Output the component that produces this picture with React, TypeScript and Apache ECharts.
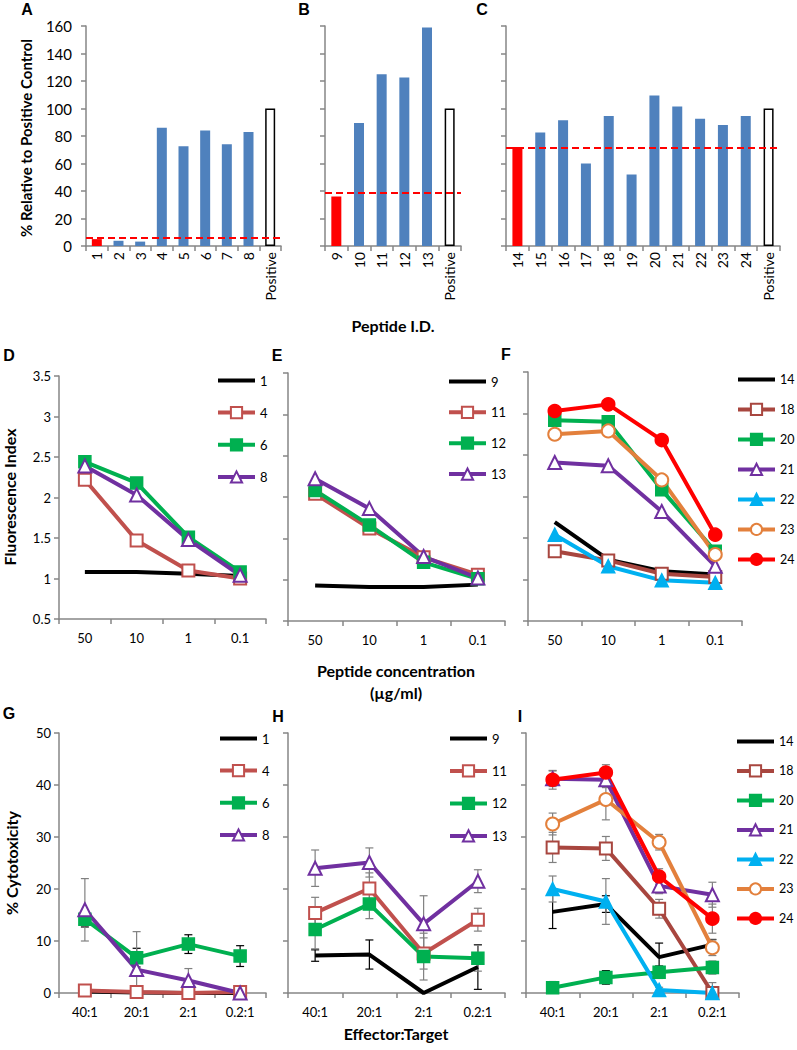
import React, { useEffect, useRef } from 'react';
import * as echarts from 'echarts';

const FONT = 'Lato, "Open Sans", sans-serif';

// ---------- Panels A-C (bar charts) ----------
const catsA = ['1', '2', '3', '4', '5', '6', '7', '8', 'Positive'];
const valsA = [5, 3.8, 3.2, 86, 72.5, 84, 74, 83, 100];
const cutoffA = 6.2;
const catsB = ['9', '10', '11', '12', '13', 'Positive'];
const valsB = [36, 89.5, 125, 122.5, 159, 100];
const cutoffB = 38.5;
const catsC = ['14', '15', '16', '17', '18', '19', '20', '21', '22', '23', '24', 'Positive'];
const valsC = [72, 82.5, 91.5, 60, 94.5, 52, 109.5, 101.5, 92.5, 88, 94.5, 100];
const cutoffC = 71.5;

// ---------- Panels D-F (Fluorescence index) ----------
const concCats = ['50', '10', '1', '0.1'];
const d1 = [1.08, 1.08, 1.06, 1.03];
const d4 = [2.22, 1.47, 1.1, 1.0];
const d6 = [2.44, 2.18, 1.51, 1.08];
const d8 = [2.39, 2.03, 1.48, 1.04];
const e9 = [0.93, 0.91, 0.91, 0.94];
const e11 = [2.04, 1.62, 1.27, 1.06];
const e12 = [2.08, 1.66, 1.21, 1.01];
const e13 = [2.22, 1.86, 1.28, 1.02];
const f14 = [1.69, 1.24, 1.1, 1.06];
const f18 = [1.34, 1.23, 1.07, 1.03];
const f20 = [2.92, 2.9, 2.08, 1.34];
const f21 = [2.41, 2.37, 1.82, 1.16];
const f22 = [1.54, 1.16, 0.99, 0.96];
const f23 = [2.75, 2.79, 2.2, 1.3];
const f24 = [3.03, 3.11, 2.68, 1.54];

// ---------- Panels G-I (% Cytotoxicity) ----------
const etCats = ['40:1', '20:1', '2:1', '0.2:1'];
const g1 = [0.3, 0.1, 0, 0];
const g4 = [0.5, 0.2, 0, 0.2];
const g6 = [14.2, 6.8, 9.4, 7.1];
const g6Err = [1.5, 1.8, 1.8, 2.0];
const g8 = [16, 4.5, 2.4, 0];
const g8Err = [6, 7.3, 2.3, 0];
const h9 = [7.2, 7.4, 0, 5];
const h9Err = [1.1, 2.8, 0, 4.3];
const h11 = [15.4, 20.1, 7.6, 14.1];
const h11Err = [3, 3, 3, 2.2];
const h12 = [12.2, 17.1, 7.0, 6.7];
const h12Err = [3.7, 2.8, 4.5, 2.5];
const h13 = [24, 25.1, 13.3, 21.5];
const h13Err = [3.5, 2.8, 5.4, 2.2];
const i14 = [15.6, 17.1, 6.9, 9.3];
const i14Err = [3.2, 1.6, 2.7, 1.0];
const i18 = [28, 27.8, 16.2, 0];
const i18Err = [2.9, 2.3, 1.8, 2.0];
const i20 = [1, 3, 4, 4.9];
const i20Err = [1.2, 1.3, 1.2, 1.2];
const i21 = [41.2, 41, 20.6, 18.9];
const i21Err = [1.5, 1.5, 1.5, 2.4];
const i22 = [20, 17.6, 0.6, 0];
const i22Err = [2.5, 4.4, 0.5, 0];
const i23 = [32.5, 37.2, 29, 8.7];
const i23Err = [2.1, 3.9, 1.5, 1.5];
const i24 = [41, 42.4, 22.4, 14.3];
const i24Err = [1.8, 1.5, 1.5, 2.8];

// ---------- styles ----------
const BLUE = '#4F81BD';
const AXIS = '#868686';
const ERR_GRAY = '#808080';
const CLEAR = 'rgba(0,0,0,0)';
const LINE_W = 4;
const styles: Record<string, { color: string; symbol: string; size: number }> = {
  '1': { color: '#000000', symbol: 'none', size: 0 },
  '9': { color: '#000000', symbol: 'none', size: 0 },
  '14': { color: '#000000', symbol: 'none', size: 0 },
  '4': { color: '#C0504D', symbol: 'emptyRect', size: 12 },
  '11': { color: '#C0504D', symbol: 'emptyRect', size: 12 },
  '18': { color: '#A8463F', symbol: 'emptyRect', size: 12 },
  '6': { color: '#00B050', symbol: 'rect', size: 12 },
  '12': { color: '#00B050', symbol: 'rect', size: 12 },
  '20': { color: '#00B050', symbol: 'rect', size: 12 },
  '8': { color: '#7030A0', symbol: 'emptyTriangle', size: 13 },
  '13': { color: '#7030A0', symbol: 'emptyTriangle', size: 13 },
  '21': { color: '#7030A0', symbol: 'emptyTriangle', size: 13 },
  '22': { color: '#00B0F0', symbol: 'triangle', size: 13 },
  '23': { color: '#E3803C', symbol: 'emptyCircle', size: 13 },
  '24': { color: '#FF0000', symbol: 'circle', size: 13 },
};

const grids = [
  { left: 86, top: 26, width: 195, height: 220 },
  { left: 325, top: 26, width: 136, height: 220 },
  { left: 506, top: 26, width: 274, height: 220 },
  { left: 59, top: 376, width: 207, height: 243 },
  { left: 288, top: 373, width: 217, height: 248 },
  { left: 528, top: 372, width: 214, height: 249 },
  { left: 59, top: 733, width: 207, height: 260 },
  { left: 288, top: 733, width: 217, height: 260 },
  { left: 526, top: 733, width: 213, height: 260 },
];

const axisLine = { show: true, lineStyle: { color: AXIS, width: 1.5 } };
const axisTick = { show: true, length: 5, lineStyle: { color: AXIS, width: 1.5 } };

function xCat(gridIndex: number, data: string[], bar: boolean) {
  return {
    gridIndex,
    type: 'category',
    data,
    boundaryGap: true,
    axisLine,
    axisTick: { ...axisTick, interval: 0, alignWithLabel: false },
    axisLabel: bar
      ? { interval: 0, rotate: 90, fontSize: 14, fontFamily: FONT, color: '#000', margin: 6 }
      : { interval: 0, fontSize: 13, fontFamily: FONT, color: '#000', margin: 12 },
    splitLine: { show: false },
  };
}

function yVal(gridIndex: number, min: number, max: number, interval: number, showLabel: boolean, fontSize: number, margin: number) {
  return {
    gridIndex,
    type: 'value',
    min,
    max,
    interval,
    axisLine,
    axisTick,
    splitLine: { show: false },
    axisLabel: { show: showLabel, fontSize, fontFamily: FONT, color: '#000', margin },
  };
}

function barSeries(idx: number, vals: number[], cutoff: number) {
  return {
    type: 'bar',
    xAxisIndex: idx,
    yAxisIndex: idx,
    barWidth: 10,
    data: vals.map((v, j) => ({
      value: v,
      itemStyle:
        j === 0
          ? { color: '#FF0000' }
          : j === vals.length - 1
          ? { color: '#FFFFFF', borderColor: '#000000', borderWidth: 1.5 }
          : { color: BLUE },
    })),
    markLine: {
      silent: true,
      symbol: ['none', 'none'],
      label: { show: false },
      lineStyle: { color: '#FF0000', type: [7, 4], width: 2 },
      data: [{ yAxis: cutoff }],
    },
    z: 2,
  };
}

function lineSeries(idx: number, name: string, values: number[]) {
  const st = styles[name];
  const noSym = st.symbol === 'none';
  return {
    type: 'line',
    name,
    xAxisIndex: idx,
    yAxisIndex: idx,
    data: values,
    symbol: st.symbol,
    symbolSize: st.size,
    showSymbol: !noSym,
    lineStyle: { color: st.color, width: LINE_W },
    itemStyle: noSym
      ? { color: CLEAR, borderColor: CLEAR, borderWidth: 0 }
      : { color: st.color, borderColor: st.color, borderWidth: 1.5 },
    z: 3,
  };
}

function errSeries(idx: number, key: string, values: number[], errs: number[], color: string) {
  return {
    type: 'custom',
    name: 'err-' + key,
    xAxisIndex: idx,
    yAxisIndex: idx,
    silent: true,
    z: 2,
    data: values.map((v, j) => [j, v, errs[j]]),
    encode: { x: 0, y: 1 },
    renderItem: (params: any, api: any) => {
      const x = api.value(0);
      const y = api.value(1);
      const e = api.value(2);
      if (!e) return { type: 'group', children: [] };
      const top = api.coord([x, y + e]);
      const bot = api.coord([x, Math.max(0, y - e)]);
      const w = 4;
      const st = { stroke: color, lineWidth: 1.2 };
      return {
        type: 'group',
        children: [
          { type: 'line', shape: { x1: top[0], y1: top[1], x2: bot[0], y2: bot[1] }, style: st },
          { type: 'line', shape: { x1: top[0] - w, y1: top[1], x2: top[0] + w, y2: top[1] }, style: st },
          { type: 'line', shape: { x1: bot[0] - w, y1: bot[1], x2: bot[0] + w, y2: bot[1] }, style: st },
        ],
      };
    },
  };
}

function legend(names: string[], left: number, top: number, gap: number, fontSize = 13) {
  return {
    data: names.map((n) =>
      styles[n].symbol === 'none'
        ? { name: n, itemStyle: { color: CLEAR, borderColor: CLEAR, borderWidth: 0 } }
        : { name: n }
    ),
    orient: 'vertical',
    left,
    top,
    itemWidth: 37,
    itemHeight: 14,
    itemGap: gap,
    selectedMode: false,
    lineStyle: { width: LINE_W },
    textStyle: { fontFamily: FONT, fontSize, color: '#000' },
  };
}

function txt(text: string, x: number, y: number, font: string, rotation = 0) {
  return {
    type: 'text',
    x,
    y,
    rotation,
    silent: true,
    style: {
      text,
      font,
      fill: '#000',
      align: 'center',
      verticalAlign: 'middle',
      textAlign: 'center',
      textVerticalAlign: 'middle',
    },
  };
}

const LETTER = 'bold 16px "Liberation Sans", Arial, sans-serif';
const TITLE = 'bold 16px Lato, sans-serif';

export default function App() {
  const ref = useRef<HTMLDivElement>(null);
  useEffect(() => {
    if (!ref.current) return;
    const chart = echarts.init(ref.current, undefined, { renderer: 'svg' });
    const option: any = {
      animation: false,
      backgroundColor: '#ffffff',
      grid: grids,
      xAxis: [
        xCat(0, catsA, true),
        xCat(1, catsB, true),
        xCat(2, catsC, true),
        xCat(3, concCats, false),
        xCat(4, concCats, false),
        xCat(5, concCats, false),
        xCat(6, etCats, false),
        xCat(7, etCats, false),
        xCat(8, etCats, false),
      ],
      yAxis: [
        yVal(0, 0, 160, 20, true, 15, 14),
        yVal(1, 0, 160, 20, false, 15, 14),
        yVal(2, 0, 160, 20, false, 15, 14),
        yVal(3, 0.5, 3.5, 0.5, true, 13, 8),
        yVal(4, 0.5, 3.5, 0.5, false, 13, 8),
        yVal(5, 0.5, 3.5, 0.5, false, 13, 8),
        yVal(6, 0, 50, 10, true, 13, 8),
        yVal(7, 0, 50, 10, false, 13, 8),
        yVal(8, 0, 50, 10, false, 13, 8),
      ],
      legend: [
        legend(['1', '4', '6', '8'], 211, 369, 19),
        legend(['9', '11', '12', '13'], 442, 370, 17.7),
        legend(['14', '18', '20', '21', '22', '23', '24'], 731, 368, 16.8, 12.5),
        legend(['1', '4', '6', '8'], 213, 727, 19),
        legend(['9', '11', '12', '13'], 443, 727, 19.3),
        legend(['14', '18', '20', '21', '22', '23', '24'], 730, 730, 16.3, 12.5),
      ],
      series: [
        barSeries(0, valsA, cutoffA),
        barSeries(1, valsB, cutoffB),
        barSeries(2, valsC, cutoffC),
        // D
        lineSeries(3, '1', d1),
        lineSeries(3, '4', d4),
        lineSeries(3, '6', d6),
        lineSeries(3, '8', d8),
        // E
        lineSeries(4, '9', e9),
        lineSeries(4, '11', e11),
        lineSeries(4, '12', e12),
        lineSeries(4, '13', e13),
        // F
        lineSeries(5, '14', f14),
        lineSeries(5, '18', f18),
        lineSeries(5, '20', f20),
        lineSeries(5, '21', f21),
        lineSeries(5, '22', f22),
        lineSeries(5, '23', f23),
        lineSeries(5, '24', f24),
        // G
        errSeries(6, 'g6', g6, g6Err, '#000000'),
        errSeries(6, 'g8', g8, g8Err, ERR_GRAY),
        lineSeries(6, '1', g1),
        lineSeries(6, '4', g4),
        lineSeries(6, '6', g6),
        lineSeries(6, '8', g8),
        // H
        errSeries(7, 'h9', h9, h9Err, '#000000'),
        errSeries(7, 'h11', h11, h11Err, ERR_GRAY),
        errSeries(7, 'h12', h12, h12Err, ERR_GRAY),
        errSeries(7, 'h13', h13, h13Err, ERR_GRAY),
        lineSeries(7, '9', h9),
        lineSeries(7, '11', h11),
        lineSeries(7, '12', h12),
        lineSeries(7, '13', h13),
        // I
        errSeries(8, 'i14', i14, i14Err, '#000000'),
        errSeries(8, 'i18', i18, i18Err, ERR_GRAY),
        errSeries(8, 'i20', i20, i20Err, '#000000'),
        errSeries(8, 'i21', i21, i21Err, ERR_GRAY),
        errSeries(8, 'i22', i22, i22Err, ERR_GRAY),
        errSeries(8, 'i23', i23, i23Err, ERR_GRAY),
        errSeries(8, 'i24', i24, i24Err, ERR_GRAY),
        lineSeries(8, '14', i14),
        lineSeries(8, '18', i18),
        lineSeries(8, '20', i20),
        lineSeries(8, '21', i21),
        lineSeries(8, '22', i22),
        lineSeries(8, '23', i23),
        lineSeries(8, '24', i24),
      ],
      graphic: [
        txt('A', 27, 9, LETTER),
        txt('B', 304, 9, LETTER),
        txt('C', 482, 9, LETTER),
        txt('D', 9, 355, LETTER),
        txt('E', 277, 355, LETTER),
        txt('F', 506, 354, LETTER),
        txt('G', 9, 713, LETTER),
        txt('H', 278, 716, LETTER),
        txt('I', 520, 716, LETTER),
        txt('% Relative to Positive Control', 26, 138, 'bold 15px Lato, sans-serif', Math.PI / 2),
        txt('Fluorescence Index', 9, 497, TITLE, Math.PI / 2),
        txt('% Cytotoxicity', 11, 863, TITLE, Math.PI / 2),
        txt('Peptide I.D.', 393, 325, TITLE),
        txt('Peptide concentration', 396, 670, TITLE),
        txt('(µg/ml)', 396, 692, TITLE),
        txt('Effector:Target', 396, 1033, TITLE),
      ],
    };
    chart.setOption(option);
    return () => chart.dispose();
  }, []);
  return (
    <div
      ref={ref}
      style={{ position: 'absolute', left: 0, top: 0, width: 797, height: 1050, background: '#fff' }}
    />
  );
}
